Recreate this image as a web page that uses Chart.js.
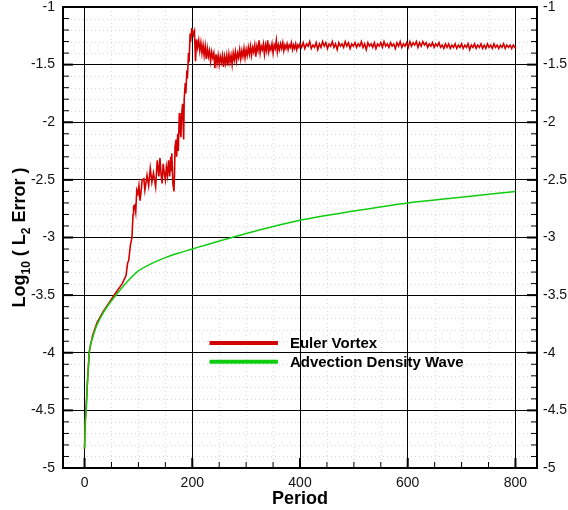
<!DOCTYPE html>
<html>
<head>
<meta charset="utf-8">
<script src="https://cdn.jsdelivr.net/npm/chart.js@4"></script>
<style>
  html, body { margin: 0; padding: 0; background: #fff; }
  #wrap { width: 568px; height: 510px; }
</style>
</head>
<body>
<div id="wrap"><canvas id="chartError"></canvas></div>
<script>
// tick labels
var periodTicks = [0, 200, 400, 600, 800];
var errorTicks = [-5, -4.5, -4, -3.5, -3, -2.5, -2, -1.5, -1];

// Euler vortex [period, log10 error]
var eulerVortex = [
    [0, -4.83], [1, -4.62], [3, -4.47], [5, -4.28], [9, -3.98], [15, -3.85], [23, -3.74], [35, -3.64], [45, -3.57], [58, -3.48],
    [70, -3.40], [77, -3.33], [80, -3.22], [82, -3.20], [85, -3.07], [88, -3.00], [90, -2.80], [91, -2.73], [93, -2.72], [95, -2.78],
    [97, -2.59], [99, -2.62], [101, -2.55], [103, -2.68], [105, -2.60], [107, -2.50], [110, -2.49], [112, -2.59], [116, -2.46], [119, -2.55],
    [122, -2.40], [125, -2.52], [128, -2.44], [132, -2.56], [135, -2.33], [138, -2.47], [140, -2.31], [142, -2.45], [144, -2.53], [146, -2.36],
    [148, -2.44], [150, -2.50], [152, -2.39], [154, -2.46], [156, -2.33], [158, -2.47], [160, -2.30], [161, -2.42], [162, -2.27], [164, -2.53],
    [166, -2.60], [167, -2.45], [168, -2.21], [170, -2.15], [171, -2.30], [173, -2.10], [174, -2.25], [176, -1.92], [177, -2.05], [179, -2.13],
    [180, -1.95], [182, -1.84], [184, -2.15], [185, -1.80], [187, -1.66], [188, -1.75], [190, -1.55], [191, -1.62], [193, -1.40], [194, -1.48],
    [196, -1.23], [197, -1.30], [199, -1.19],
    [200, -1.19], [202, -1.24], [204, -1.21], [206, -1.47], [208, -1.28], [210, -1.35], [212, -1.29], [214, -1.38], [216, -1.31], [218, -1.40],
    [220, -1.33], [222, -1.42], [224, -1.34], [226, -1.45], [228, -1.36], [230, -1.43], [232, -1.38], [234, -1.47], [236, -1.39], [238, -1.44],
    [240, -1.40], [242, -1.53], [244, -1.41], [246, -1.49], [248, -1.42], [250, -1.50], [252, -1.43], [254, -1.48], [256, -1.42], [258, -1.52],
    [260, -1.43], [262, -1.49], [264, -1.42], [266, -1.51], [268, -1.41], [270, -1.48], [272, -1.42], [274, -1.50], [276, -1.40], [278, -1.46],
    [280, -1.39], [282, -1.47], [284, -1.40], [286, -1.44], [288, -1.37], [290, -1.45], [292, -1.38], [294, -1.43], [296, -1.36], [298, -1.44],
    [300, -1.37], [302, -1.42], [304, -1.35], [306, -1.41], [308, -1.34], [310, -1.42], [312, -1.35], [314, -1.39], [316, -1.33], [318, -1.43],
    [320, -1.34], [322, -1.38], [324, -1.29], [326, -1.40], [328, -1.34], [330, -1.37], [332, -1.32], [334, -1.41], [336, -1.33], [338, -1.38],
    [340, -1.29], [342, -1.39], [344, -1.34], [346, -1.37], [348, -1.32], [350, -1.40], [352, -1.33], [354, -1.36], [356, -1.29], [358, -1.39],
    [360, -1.33], [362, -1.37], [364, -1.32], [366, -1.36], [368, -1.31], [370, -1.38], [372, -1.33], [374, -1.36], [376, -1.32], [378, -1.37],
    [380, -1.33], [382, -1.35], [384, -1.31], [386, -1.37], [388, -1.33], [390, -1.36], [392, -1.32], [394, -1.37], [396, -1.33], [398, -1.35],
    [400, -1.32], [403, -1.35], [406, -1.31], [409, -1.36], [412, -1.32], [415, -1.34], [418, -1.30], [421, -1.36], [424, -1.33], [427, -1.35],
    [430, -1.31], [433, -1.37], [436, -1.32], [439, -1.35], [442, -1.30], [445, -1.34], [448, -1.31], [451, -1.36], [454, -1.32], [457, -1.34],
    [460, -1.30], [463, -1.35], [466, -1.32], [469, -1.37], [472, -1.31], [475, -1.34], [478, -1.32], [481, -1.35], [484, -1.30], [487, -1.34],
    [490, -1.31], [493, -1.36], [496, -1.32], [499, -1.34], [502, -1.31], [505, -1.35], [508, -1.32], [511, -1.34], [514, -1.30], [517, -1.35],
    [520, -1.32], [523, -1.37], [526, -1.31], [529, -1.34], [532, -1.32], [535, -1.35], [538, -1.31], [541, -1.36], [544, -1.32], [547, -1.34],
    [550, -1.31], [553, -1.35], [556, -1.30], [559, -1.34], [562, -1.32], [565, -1.35], [568, -1.31], [571, -1.34], [574, -1.32], [577, -1.36],
    [580, -1.31], [583, -1.34], [586, -1.30], [589, -1.35], [592, -1.32], [595, -1.34], [598, -1.31], [601, -1.35], [604, -1.30], [607, -1.34],
    [610, -1.31], [613, -1.33], [616, -1.30], [619, -1.35], [622, -1.31], [625, -1.34], [628, -1.30], [631, -1.33], [634, -1.31], [637, -1.35],
    [640, -1.32], [643, -1.34], [646, -1.31], [649, -1.35], [652, -1.32], [655, -1.34], [658, -1.31], [661, -1.35], [664, -1.33], [667, -1.36],
    [670, -1.32], [673, -1.35], [676, -1.32], [679, -1.36], [682, -1.33], [685, -1.35], [688, -1.32], [691, -1.36], [694, -1.33], [697, -1.35],
    [700, -1.32], [703, -1.36], [706, -1.33], [709, -1.35], [712, -1.32], [715, -1.37], [718, -1.33], [721, -1.35], [724, -1.32], [727, -1.36],
    [730, -1.33], [733, -1.35], [736, -1.32], [739, -1.36], [742, -1.33], [745, -1.36], [748, -1.32], [751, -1.35], [754, -1.33], [757, -1.36],
    [760, -1.32], [763, -1.35], [766, -1.33], [769, -1.36], [772, -1.33], [775, -1.35], [778, -1.32], [781, -1.36], [784, -1.33], [787, -1.35],
    [790, -1.33], [793, -1.36], [796, -1.33], [799, -1.35], [800, -1.34]
];

// advection density wave [period, log10 error]
var advectionWave = [
    [0, -4.83], [1, -4.65], [3, -4.5], [5, -4.3], [9, -4.0], [15, -3.87], [23, -3.76], [35, -3.65], [45, -3.58], [60, -3.49],
    [80, -3.38], [100, -3.29], [125, -3.225], [150, -3.175], [175, -3.135], [200, -3.10], [230, -3.058], [260, -3.018], [300, -2.966],
    [350, -2.905], [400, -2.85], [500, -2.77], [600, -2.70], [700, -2.65], [800, -2.60]
];

var fontFamily = "'Liberation Sans', Arial, Helvetica, sans-serif";

function toPoints(pairs) {
    return pairs.map(function(p) { return { x: p[0], y: p[1] }; });
}

function noPadding(s) {
    s.paddingTop = 0; s.paddingBottom = 0; s.paddingLeft = 0; s.paddingRight = 0;
}

var axisDecor = {
    id: 'axisDecor',
    beforeDraw: function(chart) {
        // faint dotted minor grid, under everything else
        var ctx = chart.ctx, a = chart.chartArea;
        var xs = chart.scales.x, ys = chart.scales.y;
        ctx.save();
        ctx.strokeStyle = '#d8d8d8';
        ctx.lineWidth = 1;
        ctx.setLineDash([1, 3]);
        for (var v = 0; v <= 800; v += 50) {
            if (v % 200 === 0) continue;
            var px = Math.round(xs.getPixelForValue(v)) + 0.5;
            ctx.beginPath(); ctx.moveTo(px, a.top); ctx.lineTo(px, a.bottom); ctx.stroke();
        }
        for (var i = 1; i < 40; i++) {
            if (i % 5 === 0) continue;
            var py = Math.round(ys.getPixelForValue(-5 + i / 10)) + 0.5;
            ctx.beginPath(); ctx.moveTo(a.left, py); ctx.lineTo(a.right, py); ctx.stroke();
        }
        ctx.restore();
    },
    afterDatasetsDraw: function(chart) {
        var ctx = chart.ctx, a = chart.chartArea;
        var xs = chart.scales.x, ys = chart.scales.y;
        ctx.save();
        ctx.strokeStyle = '#000';
        // tick marks pointing inward
        for (var i = 0; i <= 40; i++) {
            var major = i % 5 === 0;
            var py = ys.getPixelForValue(-5 + i / 10);
            var len = major ? 10 : 6;
            ctx.lineWidth = major ? 2 : 1;
            ctx.beginPath(); ctx.moveTo(a.left, py); ctx.lineTo(a.left + len, py); ctx.stroke();
            ctx.beginPath(); ctx.moveTo(a.right, py); ctx.lineTo(a.right - len, py); ctx.stroke();
        }
        for (var v = 0; v <= 800; v += 50) {
            var majorX = v % 200 === 0;
            var px = xs.getPixelForValue(v);
            ctx.lineWidth = majorX ? 2 : 1;
            ctx.beginPath(); ctx.moveTo(px, a.bottom); ctx.lineTo(px, a.bottom - (majorX ? 10 : 6)); ctx.stroke();
        }
        // frame
        ctx.lineWidth = 2;
        ctx.strokeRect(a.left, a.top, a.right - a.left, a.bottom - a.top);

        // legend inside the plot
        var lx0 = xs.getPixelForValue(232), lx1 = xs.getPixelForValue(359);
        var ly = [ys.getPixelForValue(-3.915), ys.getPixelForValue(-4.078)];
        ctx.font = 'bold 15px ' + fontFamily;
        ctx.textBaseline = 'middle';
        ctx.fillStyle = '#000';
        chart.data.datasets.forEach(function(ds, k) {
            ctx.strokeStyle = ds.borderColor;
            ctx.lineWidth = 4;
            ctx.beginPath(); ctx.moveTo(lx0, ly[k]); ctx.lineTo(lx1, ly[k]); ctx.stroke();
            ctx.fillText(ds.label, lx1 + 12, ly[k] + 1);
        });

        // y title with subscripts
        var parts = [['Log', 18, 0], ['10', 12, 5], [' ( L', 18, 0], ['2', 12, 5], [' Error )', 18, 0]];
        var total = 0;
        parts.forEach(function(p) { ctx.font = 'bold ' + p[1] + 'px ' + fontFamily; total += ctx.measureText(p[0]).width; });
        ctx.translate(19, (a.top + a.bottom) / 2);
        ctx.rotate(-Math.PI / 2);
        ctx.textBaseline = 'alphabetic';
        var cx = -total / 2;
        parts.forEach(function(p) {
            ctx.font = 'bold ' + p[1] + 'px ' + fontFamily;
            ctx.fillText(p[0], cx, 6 + p[2]);
            cx += ctx.measureText(p[0]).width;
        });
        ctx.restore();
    }
};

var ctx = document.getElementById('chartError');
var errorChart = new Chart(ctx, {
    type: 'line',
    data: {
        datasets: [{
            label: 'Euler Vortex',
            data: toPoints(eulerVortex),
            borderColor: '#d40000',
            borderWidth: 1.6,
            pointRadius: 0,
            order: 1
        }, {
            label: 'Advection Density Wave',
            data: toPoints(advectionWave),
            borderColor: '#10cc10',
            borderWidth: 1.5,
            pointRadius: 0,
            cubicInterpolationMode: 'monotone',
            order: 0
        }]
    },
    options: {
        responsive: true,
        maintainAspectRatio: false,
        animation: false,
        layout: { padding: { top: 7, left: 0, right: 0, bottom: 0 } },
        plugins: {
            legend: { display: false },
            tooltip: { enabled: false }
        },
        scales: {
            x: {
                type: 'linear',
                min: -40,
                max: 840,
                afterBuildTicks: function(s) { s.ticks = periodTicks.map(function(v) { return { value: v }; }); },
                afterFit: function(s) { s.height = 42; noPadding(s); },
                grid: { color: '#000', lineWidth: 1, drawTicks: false },
                border: { display: false },
                ticks: { color: '#111', padding: 7, font: { family: fontFamily, size: 14 }, maxRotation: 0 },
                title: { display: true, text: 'Period', color: '#000', padding: 0, font: { family: fontFamily, size: 18, weight: 'bold' } }
            },
            y: {
                min: -5,
                max: -1,
                afterBuildTicks: function(s) { s.ticks = errorTicks.map(function(v) { return { value: v }; }); },
                afterFit: function(s) { s.width = 63; noPadding(s); },
                grid: { color: '#000', lineWidth: 1, drawTicks: false },
                border: { display: false },
                ticks: { color: '#111', padding: 8, font: { family: fontFamily, size: 14 }, callback: function(v) { return String(v); } }
            },
            y2: {
                position: 'right',
                min: -5,
                max: -1,
                afterBuildTicks: function(s) { s.ticks = errorTicks.map(function(v) { return { value: v }; }); },
                afterFit: function(s) { s.width = 31; noPadding(s); },
                grid: { drawOnChartArea: false, drawTicks: false },
                border: { display: false },
                ticks: { color: '#111', padding: 6, font: { family: fontFamily, size: 14 }, callback: function(v) { return String(v); } }
            }
        }
    },
    plugins: [axisDecor]
});
</script>
</body>
</html>
